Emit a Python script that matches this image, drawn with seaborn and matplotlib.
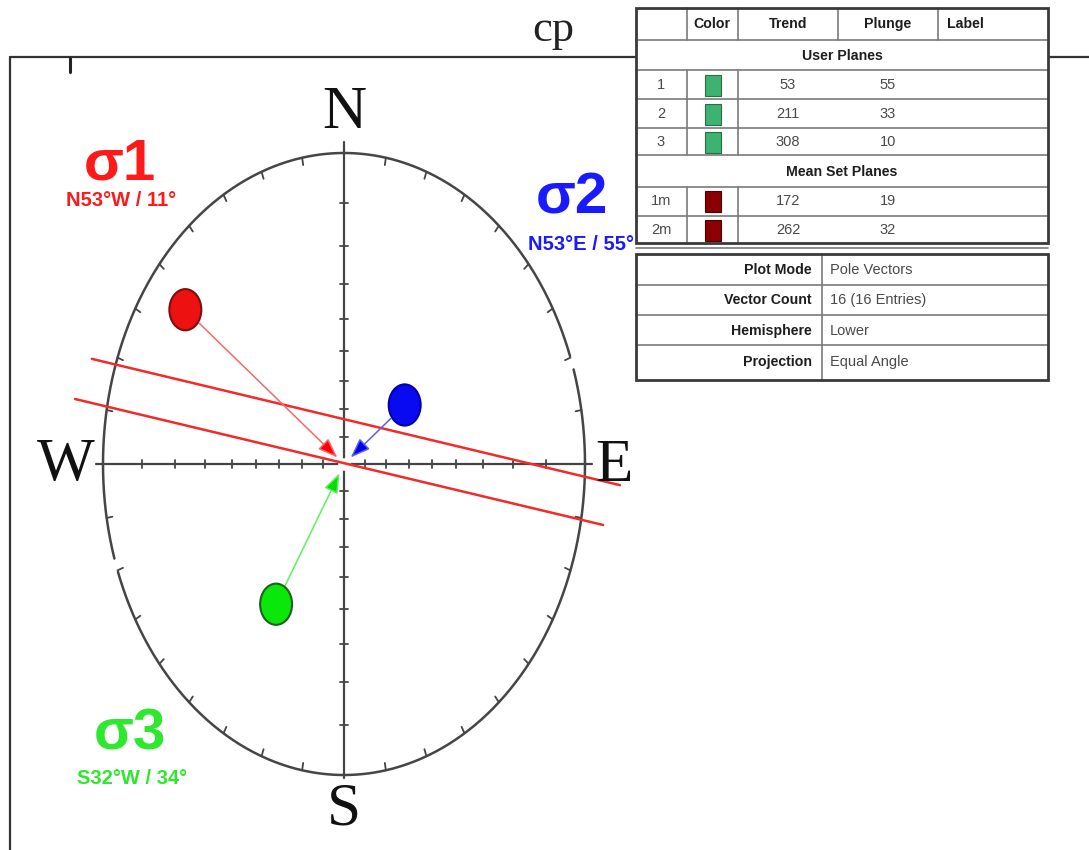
import numpy as np
import pandas as pd
import matplotlib
matplotlib.use("Agg")
import matplotlib.pyplot as plt
from matplotlib.path import Path
from matplotlib.transforms import Affine2D
from matplotlib.patches import Rectangle
import seaborn as sns

# Principal stress axes: trend / plunge in degrees
sigma_names = ["σ1", "σ2", "σ3"]
sigma_trend = [307, 53, 212]
sigma_plunge = [11, 55, 34]
sigma_text = ["N53°W / 11°", "N53°E / 55°", "S32°W / 34°"]

# Traces of the two fault planes (endpoints in projection units)
plane_ids = ["A", "A", "B", "B"]
plane_x = [-1.046, 1.145, -1.116, 1.075]
plane_y = [0.338, -0.068, 0.209, -0.196]

# Attribute table
table_cols = ["", "Color", "Trend", "Plunge", "Label"]
user_ids = ["1", "2", "3"]
user_trend = [53, 211, 308]
user_plunge = [55, 33, 10]
mean_ids = ["1m", "2m"]
mean_trend = [172, 262]
mean_plunge = [19, 32]
info_keys = ["Plot Mode", "Vector Count", "Hemisphere", "Projection"]
info_vals = ["Pole Vectors", "16 (16 Entries)", "Lower", "Equal Angle"]

sns.set_theme(style="white")
plt.rcParams["font.family"] = ["Liberation Sans", "DejaVu Sans"]

W, H = 1089, 850
CX, CY, RX, RY = 344, 464, 241, 311

fig = plt.figure(figsize=(W / 100, H / 100), dpi=100)
fig.patch.set_facecolor("white")

# stereonet axes: unit primitive circle, stretched to the page
ax = fig.add_axes([0, 0, 1, 1])
ax.set_xlim(-CX / RX, (W - CX) / RX)
ax.set_ylim((CY - H) / RY, CY / RY)
ax.axis("off")

# overlay axes in pixel units for frame, labels and table
ov = fig.add_axes([0, 0, 1, 1], zorder=3)
ov.set_xlim(0, W)
ov.set_ylim(H, 0)
ov.axis("off")
ov.patch.set_alpha(0)


def project(trend, plunge):
    """Equal-angle (stereographic) lower-hemisphere projection."""
    r = np.tan(np.radians(90 - np.asarray(plunge, float)) / 2)
    t = np.radians(np.asarray(trend, float))
    return r * np.sin(t), r * np.cos(t)


grey = "#454545"

# primitive circle with two small breaks
for a0, a1 in [(72.3, 249.7), (252.3, 429.7)]:
    t = np.radians(np.linspace(a0, a1, 400))
    ax.plot(np.sin(t), np.cos(t), color=grey, lw=1.8, zorder=2)
# 10 degree ticks around the primitive
for az in np.radians(np.arange(0, 360, 10)):
    ax.plot([np.sin(az), 0.976 * np.sin(az)], [np.cos(az), 0.976 * np.cos(az)],
            color=grey, lw=1.3, zorder=2)

# N-S / E-W diameters with 10 degree dip graduations
ax.plot([-1.03, 1.03], [0, 0], color=grey, lw=1.6, zorder=2)
ax.plot([0, 0], [-1.01, 1.035], color=grey, lw=1.6, zorder=2)
dips = np.arange(10, 90, 10)
rr = np.tan(np.radians(90 - dips) / 2)
for r in np.concatenate([rr, -rr]):
    ax.plot([r, r], [-4 / RY, 4 / RY], color=grey, lw=1.3, zorder=2)
    ax.plot([-4 / RX, 4 / RX], [r, r], color=grey, lw=1.3, zorder=2)
ax.plot([0], [0], "o", ms=8, color="white", zorder=3)

# fault plane traces
planes = pd.DataFrame({"plane": plane_ids, "x": plane_x, "y": plane_y})
sns.lineplot(data=planes, x="x", y="y", units="plane", estimator=None, sort=False,
             color="#f22a2a", lw=1.8, ax=ax, legend=False, zorder=4)

# stress axes and their pole vectors
sx, sy = project(sigma_trend, sigma_plunge)
fills = ["#ee1111", "#0a0af0", "#0ae80a"]
edges = ["#7a1010", "#0000b0", "#1f5f1f"]
line_cols = ["#f06a6a", "#5c5cf2", "#5ef05e"]
head_cols = ["#ff0000", "#0000ee", "#00dd00"]
for x, y, lc, hc in zip(sx, sy, line_cols, head_cols):
    d = np.hypot(x, y)
    tip = (x / d * 0.035, y / d * 0.035)
    ax.annotate("", xy=tip, xytext=(x, y),
                arrowprops=dict(arrowstyle="-|>,head_length=0.75,head_width=0.28",
                                mutation_scale=16, edgecolor=lc, facecolor=hc,
                                lw=1.1, shrinkA=14, shrinkB=0),
                zorder=5)

stress = pd.DataFrame({"axis": sigma_names, "x": sx, "y": sy})
ellipse_marker = Path.unit_circle().transformed(Affine2D().scale(1, 1.29))
sns.scatterplot(data=stress, x="x", y="y", hue="axis",
                palette=dict(zip(sigma_names, fills)), marker=ellipse_marker,
                s=880, edgecolor=edges, linewidth=1.5, legend=False, ax=ax, zorder=6)

# compass letters and title
serif = ["Liberation Serif", "DejaVu Serif"]
for txt, (px, py) in zip(["N", "W", "E", "S"], [(344, 113), (66, 465), (614, 466), (344, 810)]):
    ov.text(px, py, txt, family=serif, fontsize=44, ha="center", va="center", color="#111")
ov.text(553, 30, "cp", family=serif, fontsize=32, ha="center", va="center", color="#222")

# stress labels
text_cols = ["#ff1a1a", "#1a1aff", "#2de82d"]
big_pos = [(120, 164), (572, 198), (130, 735)]
sub_pos = [(121, 200), (581, 244), (132, 778)]
for name, sub, c, bp, sp in zip(sigma_names, sigma_text, text_cols, big_pos, sub_pos):
    ov.text(*bp, name, fontsize=42, fontweight="bold", color=c, ha="center", va="center")
    ov.text(*sp, sub, fontsize=14.5, fontweight="bold", color=c, ha="center", va="center")

# page frame
ov.plot([10, W], [57, 57], color="#333", lw=1.6, zorder=1)
ov.plot([10, 10], [57, H], color="#333", lw=1.6, zorder=1)
ov.plot([70, 70], [58, 72], color="#222", lw=2.2, zorder=1)

# ---- attribute table ----
L, R = 636, 1048
col_x = [636, 687, 738, 838, 938, 1048]
line_c = "#7a7a7a"
edge_c = "#3a3a3a"
hdr_font = dict(fontsize=10.2, fontweight="bold", color="#1e1e1e", va="center")
val_font = dict(fontsize=10.5, color="#4a4a4a", va="center",
                family=["Liberation Sans Narrow", "Liberation Sans", "DejaVu Sans"])

ov.add_patch(Rectangle((L, 8), R - L, 372, facecolor="white", edgecolor="none", zorder=4))

def hline(y, lw=1.2, c=line_c):
    ov.plot([L, R], [y, y], color=c, lw=lw, zorder=5)

def vlines(y0, y1, xs):
    for x in xs:
        ov.plot([x, x], [y0, y1], color=line_c, lw=1.2, zorder=5)

# upper block
for y in [40, 70, 99, 128, 155, 187, 216]:
    hline(y)
vlines(8, 40, col_x[1:-1])
vlines(70, 155, col_x[1:3])
vlines(187, 243, col_x[1:3])
ov.add_patch(Rectangle((L, 8), R - L, 235, facecolor="none", edgecolor=edge_c, lw=2, zorder=6))

hdr_x = [None, 712, 788, 888, 947]
for c, hx in zip(table_cols, hdr_x):
    if c:
        ov.text(hx, 24, c, ha="left" if c == "Label" else "center", zorder=7, **hdr_font)
ov.text(842, 56, "User Planes", ha="center", zorder=7, **hdr_font)
ov.text(842, 172, "Mean Set Planes", ha="center", zorder=7, **hdr_font)

user_rows = [85, 114, 142]
for rid, tr, pl, yc in zip(user_ids, user_trend, user_plunge, user_rows):
    ov.text(661, yc, rid, ha="center", zorder=7, **val_font)
    ov.add_patch(Rectangle((705, yc - 10.5), 16, 21, facecolor="#3cb371",
                           edgecolor="#2d6b45", lw=0.8, zorder=7))
    ov.text(788, yc, str(tr), ha="center", zorder=7, **val_font)
    ov.text(888, yc, str(pl), ha="center", zorder=7, **val_font)

mean_rows = [201, 230]
for rid, tr, pl, yc in zip(mean_ids, mean_trend, mean_plunge, mean_rows):
    ov.text(661, yc, rid, ha="center", zorder=7, **val_font)
    ov.add_patch(Rectangle((705, yc - 10.5), 16, 21, facecolor="#8b0000",
                           edgecolor="#4a0000", lw=0.8, zorder=7))
    ov.text(788, yc, str(tr), ha="center", zorder=7, **val_font)
    ov.text(888, yc, str(pl), ha="center", zorder=7, **val_font)

# lower block
hline(248)
for y in [285, 315, 345]:
    hline(y)
ov.plot([822, 822], [254, 380], color=line_c, lw=1.2, zorder=5)
ov.add_patch(Rectangle((L, 254), R - L, 126, facecolor="none", edgecolor=edge_c, lw=2, zorder=6))
info_rows = [270, 300, 331, 362]
for k, v, yc in zip(info_keys, info_vals, info_rows):
    ov.text(812, yc, k, ha="right", zorder=7, **hdr_font)
    ov.text(830, yc, v, ha="left", zorder=7, **val_font)

fig.savefig("out.png", dpi=100, facecolor="white")
